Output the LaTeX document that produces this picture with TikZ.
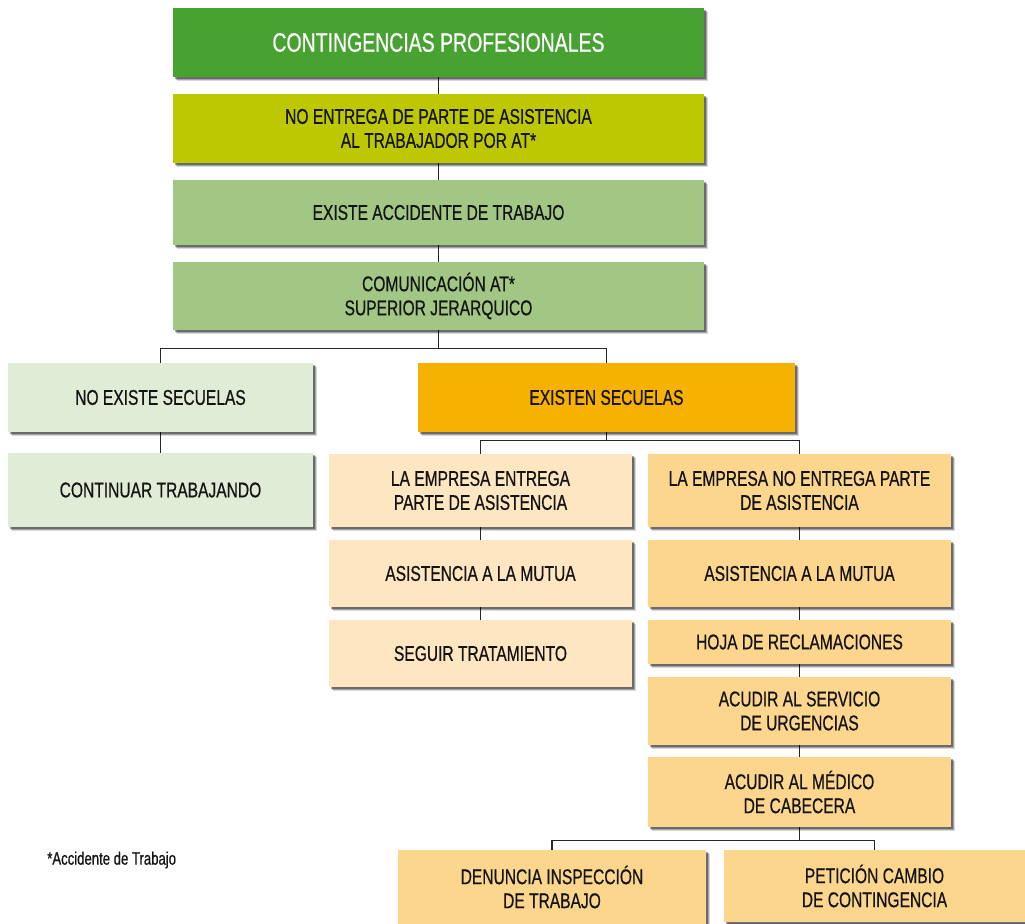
\documentclass[tikz,border=0pt]{standalone}
\usepackage{fontspec}
\setmainfont{Liberation Sans}[FakeStretch=0.73,FakeBold=0.6]
\usetikzlibrary{shadows,backgrounds}
\definecolor{cGreen}{HTML}{48A232}
\definecolor{cLime}{HTML}{BDC800}
\definecolor{cSage}{HTML}{A2C785}
\definecolor{cPale}{HTML}{E1ECD6}
\definecolor{cOrange}{HTML}{F7B100}
\definecolor{cCream}{HTML}{FDE6C0}
\definecolor{cPeach}{HTML}{FDD68E}
\definecolor{cText}{HTML}{141414}
\tikzset{
  box/.style={draw=none, align=center, text=cText, inner sep=0pt,
    font=\fontsize{16}{18}\selectfont,
    general shadow={shadow xshift=3.2pt, shadow yshift=-3.2pt, opacity=0.15, fill=black},
    general shadow={shadow xshift=2.4pt, shadow yshift=-2.4pt, opacity=0.25, fill=black},
    general shadow={shadow xshift=1.6pt, shadow yshift=-1.6pt, opacity=0.35, fill=black}},
  conn/.style={draw=black!85, line width=1pt},
}
\begin{document}
\begin{tikzpicture}[x=0.75pt,y=-0.75pt]
\useasboundingbox (0,0) rectangle (1025,924);
\node[box, fill=cGreen, text=white, font=\fontsize{20}{22}\selectfont, minimum width=398.25pt, minimum height=51.75pt] (b1) at (438.5,42.5) {CONTINGENCIAS PROFESIONALES};
\node[box, fill=cLime, minimum width=398.25pt, minimum height=51.75pt] (b2) at (438.5,128.5) {NO ENTREGA DE PARTE DE ASISTENCIA\\AL TRABAJADOR POR AT*};
\node[box, fill=cSage, minimum width=398.25pt, minimum height=48.75pt] (b3) at (438.5,212.5) {EXISTE ACCIDENTE DE TRABAJO};
\node[box, fill=cSage, minimum width=398.25pt, minimum height=51pt] (b4) at (438.5,296) {COMUNICACIÓN AT*\\SUPERIOR JERARQUICO};
\node[box, fill=cPale, minimum width=228.75pt, minimum height=51.75pt] (ne) at (160.5,397.5) {NO EXISTE SECUELAS};
\node[box, fill=cPale, minimum width=228.75pt, minimum height=55.5pt] (ct) at (160.5,490) {CONTINUAR TRABAJANDO};
\node[box, fill=cOrange, minimum width=282.75pt, minimum height=51.75pt] (es) at (606.5,397.5) {EXISTEN SECUELAS};
\node[box, fill=cCream, minimum width=227.25pt, minimum height=54.75pt] (l1) at (480.5,490.5) {LA EMPRESA ENTREGA\\PARTE DE ASISTENCIA};
\node[box, fill=cCream, minimum width=227.25pt, minimum height=50.25pt] (l2) at (480.5,573.5) {ASISTENCIA A LA MUTUA};
\node[box, fill=cCream, minimum width=227.25pt, minimum height=50.25pt] (l3) at (480.5,653.5) {SEGUIR TRATAMIENTO};
\node[box, fill=cPeach, minimum width=227.25pt, minimum height=54.75pt] (r1) at (799.5,490.5) {LA EMPRESA NO ENTREGA PARTE\\DE ASISTENCIA};
\node[box, fill=cPeach, minimum width=227.25pt, minimum height=50.25pt] (r2) at (799.5,573.5) {ASISTENCIA A LA MUTUA};
\node[box, fill=cPeach, minimum width=227.25pt, minimum height=33pt] (r3) at (799.5,642) {HOJA DE RECLAMACIONES};
\node[box, fill=cPeach, minimum width=227.25pt, minimum height=51pt] (r4) at (799.5,711) {ACUDIR AL SERVICIO\\DE URGENCIAS};
\node[box, fill=cPeach, minimum width=227.25pt, minimum height=52.5pt] (r5) at (799.5,792) {ACUDIR AL MÉDICO\\DE CABECERA};
\node[box, fill=cPeach, minimum width=231pt, minimum height=55.5pt] (d1) at (552,887) {DENUNCIA INSPECCIÓN\\DE TRABAJO};
\node[box, fill=cPeach, minimum width=225.75pt, minimum height=54pt] (d2) at (874.5,886) {PETICIÓN CAMBIO\\DE CONTINGENCIA};
\node[anchor=west, inner sep=0pt, text=cText, font=\fontsize{13.5}{15}\selectfont] (fn) at (47,860) {*Accidente de Trabajo};
\begin{scope}[on background layer]
\draw[conn] (b1.south) -- (b2.north);
\draw[conn] (b2.south) -- (b3.north);
\draw[conn] (b3.south) -- (b4.north);
\draw[conn] (b4.south) -- ++(0,18) coordinate (j1);
\draw[conn] (j1) -| (ne.north);
\draw[conn] (j1) -| (es.north);
\draw[conn] (ne.south) -- (ct.north);
\draw[conn] (es.south) -- ++(0,8) coordinate (j2);
\draw[conn] (j2) -| (l1.north);
\draw[conn] (j2) -| (r1.north);
\draw[conn] (l1.south) -- (l2.north);
\draw[conn] (l2.south) -- (l3.north);
\draw[conn] (r1.south) -- (r2.north);
\draw[conn] (r2.south) -- (r3.north);
\draw[conn] (r3.south) -- (r4.north);
\draw[conn] (r4.south) -- (r5.north);
\draw[conn] (r5.south) -- ++(0,13) coordinate (j3);
\draw[conn] (j3) -| (d1.north);
\draw[conn] (j3) -| (d2.north);
\end{scope}
\end{tikzpicture}
\end{document}
